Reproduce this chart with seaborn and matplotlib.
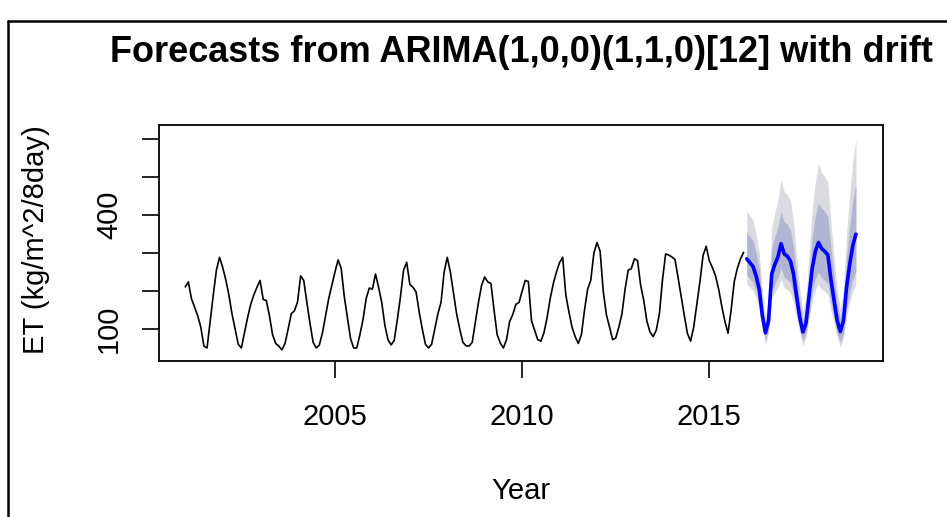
import matplotlib
matplotlib.use("Agg")
import numpy as np
import pandas as pd
import matplotlib.pyplot as plt
import seaborn as sns
from matplotlib.lines import Line2D

# ---- labels -------------------------------------------------------------
title = "Forecasts from ARIMA(1,0,0)(1,1,0)[12] with drift"
x_label = "Year"
y_label = "ET (kg/m^2/8day)"

# ---- monthly series, Jan 2001 .. Dec 2015 ---------------------------------
start_year = 2001
et_observed = [
    211, 224, 180, 158, 135, 105, 55, 50, 120, 190, 255, 289,
    263, 230, 190, 140, 100, 60, 50, 90, 130, 165, 190, 210,
    228, 178, 175, 135, 85, 62, 55, 45, 62, 100, 140, 148,
    171, 240, 228, 170, 115, 65, 50, 58, 90, 135, 180, 215,
    250, 282, 260, 185, 130, 75, 50, 50, 85, 125, 180, 208,
    205, 245, 210, 170, 110, 72, 58, 70, 125, 185, 255, 276,
    218, 210, 198, 145, 100, 60, 50, 60, 100, 140, 170, 250,
    289, 250, 195, 140, 100, 65, 56, 55, 65, 118, 170, 215,
    237, 224, 220, 150, 85, 63, 50, 72, 120, 138, 165, 170,
    200, 228, 225, 122, 97, 72, 68, 90, 130, 180, 220, 250,
    275, 289, 190, 145, 105, 80, 62, 85, 150, 205, 228, 300,
    328, 305, 200, 138, 106, 72, 76, 105, 140, 205, 255, 259,
    285, 280, 215, 175, 120, 92, 80, 97, 140, 230, 298, 295,
    290, 283, 235, 185, 135, 88, 68, 105, 165, 225, 294, 318,
    280, 262, 240, 205, 160, 120, 89, 150, 225, 260, 285, 302,
]

# ---- forecast, Jan 2016 .. Dec 2018 ---------------------------------------
forecast_start = 2016
et_forecast = [
    285, 275, 265, 240, 205, 135, 90, 122, 245, 270, 290, 325,
    298, 292, 280, 245, 185, 130, 92, 115, 190, 260, 305, 328,
    312, 305, 295, 230, 175, 122, 93, 122, 210, 270, 320, 350,
]
lo80 = [
    242, 233, 223, 201, 171, 112, 70, 100, 200, 220, 235, 262,
    237, 231, 221, 193, 145, 101, 68, 89, 146, 200, 233, 250,
    235, 228, 220, 171, 130, 90, 65, 89, 153, 196, 231, 252,
]
hi80 = [
    355, 344, 333, 302, 258, 170, 114, 155, 312, 343, 368, 410,
    382, 376, 362, 318, 241, 171, 121, 152, 250, 342, 400, 432,
    418, 410, 397, 311, 237, 166, 127, 168, 288, 370, 438, 480,
]
lo95 = [
    219, 210, 201, 181, 154, 101, 57, 90, 179, 196, 209, 232,
    209, 204, 194, 169, 127, 89, 55, 78, 128, 175, 204, 219,
    204, 199, 191, 149, 113, 78, 52, 77, 133, 170, 200, 217,
]
hi95 = [
    410, 399, 387, 350, 301, 200, 134, 183, 368, 408, 441, 494,
    462, 454, 437, 383, 290, 205, 145, 182, 302, 415, 488, 535,
    512, 502, 487, 381, 291, 203, 155, 204, 353, 455, 541, 599,
]

y_ticks = [100, 200, 300, 400, 500, 600]
y_tick_labels = ["100", "", "", "400", "", ""]
x_ticks = [2005, 2010, 2015]

observed = pd.DataFrame({
    "time": start_year + np.arange(len(et_observed)) / 12,
    "et": et_observed,
})
forecast = pd.DataFrame({
    "time": forecast_start + np.arange(len(et_forecast)) / 12,
    "mean": et_forecast,
    "lo80": lo80, "hi80": hi80,
    "lo95": lo95, "hi95": hi95,
})

sns.set_theme(style="white")
plt.rcParams["font.family"] = ["Liberation Sans", "DejaVu Sans"]

W, H = 947, 517
fig = plt.figure(figsize=(W / 100, H / 100), dpi=100)
ax = fig.add_axes([159 / W, (H - 361) / H, (883 - 159) / W, (361 - 125) / H])

# prediction intervals
ax.fill_between(forecast["time"], forecast["lo95"], forecast["hi95"],
                color="#DADAE1", lw=0, zorder=1)
ax.fill_between(forecast["time"], forecast["lo80"], forecast["hi80"],
                color="#B1B5D3", lw=0, zorder=2)

sns.lineplot(data=observed, x="time", y="et", color="black", lw=1.2,
             estimator=None, ax=ax, zorder=3)
sns.lineplot(data=forecast, x="time", y="mean", color="#0000FF", lw=2.6,
             estimator=None, ax=ax, zorder=4)

ax.set_xlim(2000.30, 2019.64)
ax.set_ylim(15.7, 637.7)
ax.set_xticks(x_ticks)
ax.set_xticklabels([str(t) for t in x_ticks])
ax.set_yticks(y_ticks)
ax.set_yticklabels(y_tick_labels, rotation=90, va="center")
ax.set_xlabel("")
ax.set_ylabel("")

for side in ["left", "right", "top", "bottom"]:
    ax.spines[side].set_visible(True)
    ax.spines[side].set_color("black")
    ax.spines[side].set_linewidth(1.3)

ax.tick_params(axis="both", direction="out", length=12.5, width=1.2,
               color="black", labelsize=21, labelcolor="black")
ax.tick_params(axis="x", pad=18, bottom=True)
ax.tick_params(axis="y", pad=13.5, left=True)

fig.text(521 / W, 1 - 52 / H, title, ha="center", va="center",
         fontsize=26, fontweight="bold", color="black")
fig.text(521 / W, 1 - 491 / H, x_label, ha="center", va="center",
         fontsize=21, color="black")
fig.text(36 / W, 1 - 240 / H, y_label, ha="center", va="center",
         rotation=90, fontsize=21, color="black")

# outer frame around the figure
fig.add_artist(Line2D([8 / W, 8 / W], [0, 1 - 21 / H],
                      transform=fig.transFigure, color="black", lw=1.8))
fig.add_artist(Line2D([8 / W, 1], [1 - 21 / H, 1 - 21 / H],
                      transform=fig.transFigure, color="black", lw=1.8))

fig.savefig("out.png", dpi=100)
